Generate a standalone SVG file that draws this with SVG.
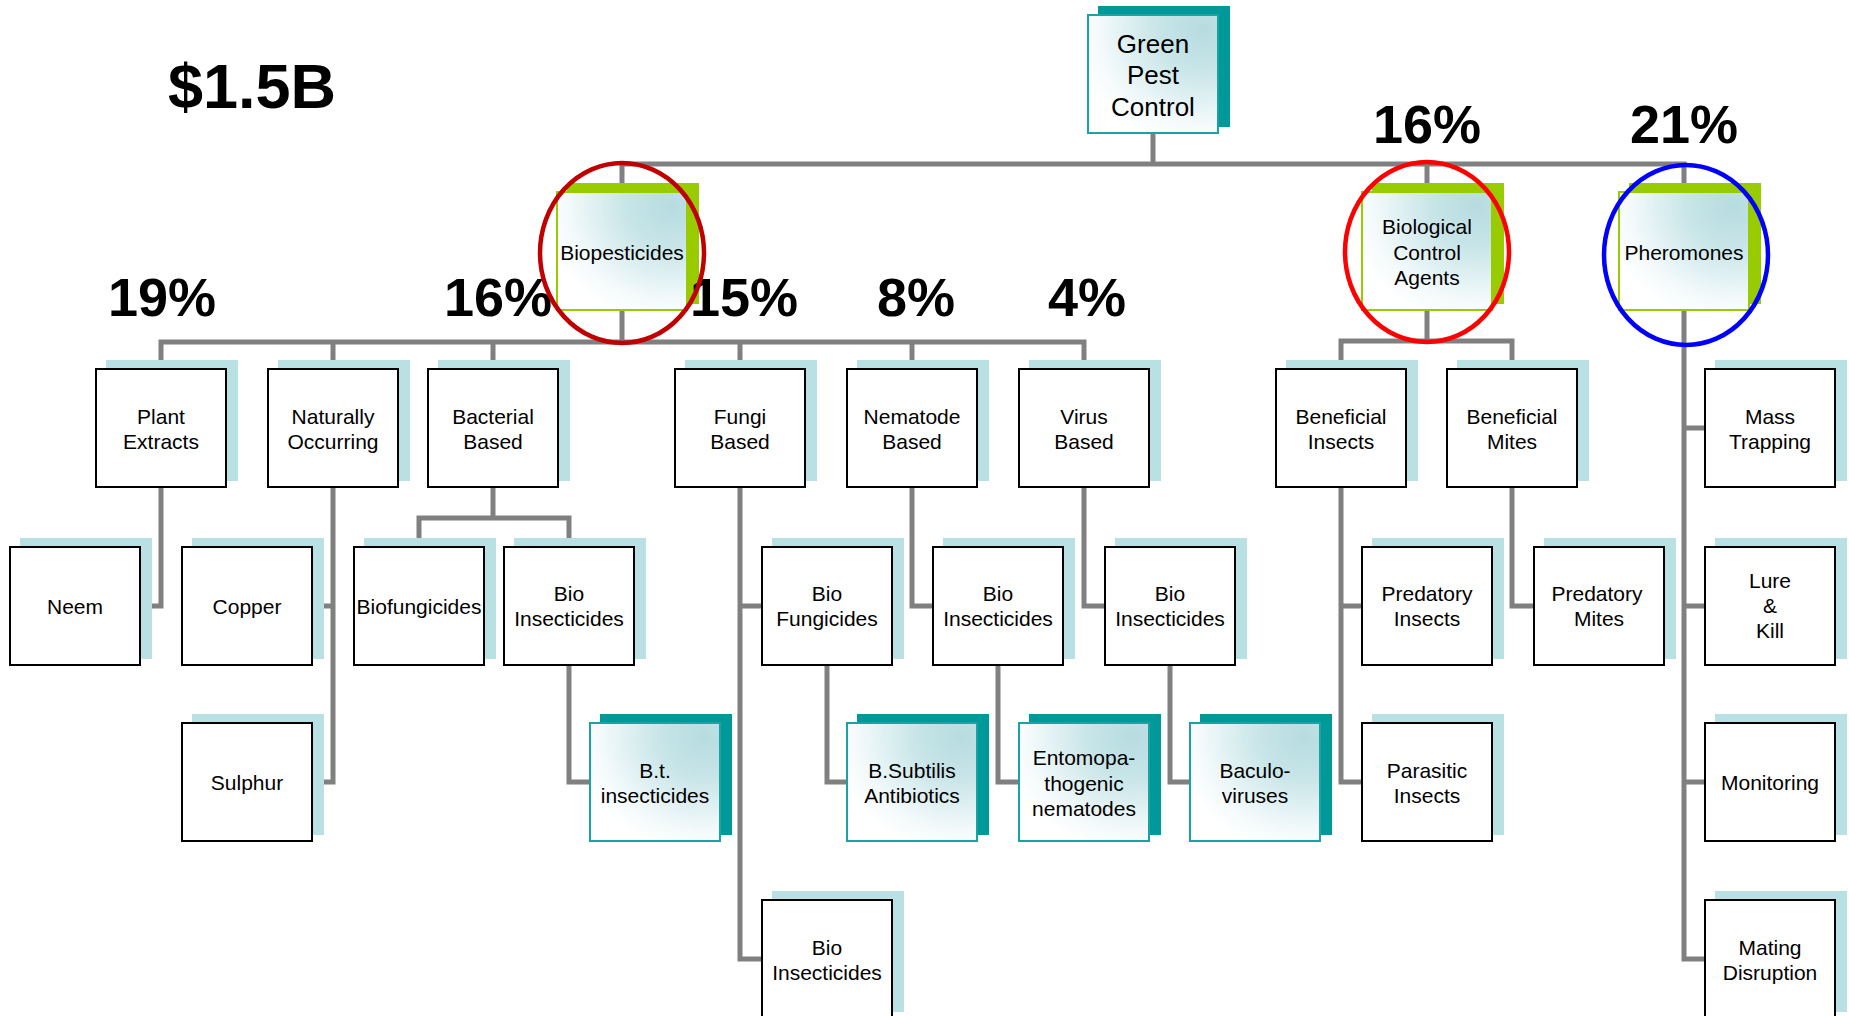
<svg xmlns="http://www.w3.org/2000/svg" width="1849" height="1016" viewBox="0 0 1849 1016">
<defs>
<radialGradient id="grad" cx="0.88" cy="0.12" r="1.0">
<stop offset="0" stop-color="#b6dce0"/>
<stop offset="0.35" stop-color="#c8e5e8"/>
<stop offset="0.8" stop-color="#f4fafb"/>
<stop offset="1" stop-color="#ffffff"/>
</radialGradient>
<style>
.conn{stroke:#808080;stroke-width:5;fill:none;stroke-linejoin:miter}
.shl{fill:#b9e0e3}
.sht{fill:#009999}
.shg{fill:#99cc00}
.box{fill:#ffffff;stroke:#000000;stroke-width:2}
.gbox{fill:url(#grad);stroke:#99cc00;stroke-width:2}
.tbox{fill:url(#grad);stroke:#1aa3a3;stroke-width:2}
text{font-family:"Liberation Sans",Arial,sans-serif;fill:#000000}
.t{font-size:21px;text-anchor:middle}
.tr{font-size:26px;text-anchor:middle}
.pct{font-size:54px;font-weight:bold;text-anchor:middle}
.big{font-size:63px;font-weight:bold}
.ring{fill:none;stroke-width:4.5}
</style>
</defs>
<rect x="0" y="0" width="1849" height="1016" fill="#ffffff"/>

<g id="connectors">
<path class="conn" d="M1153 133V164"/>
<path class="conn" d="M622 192V164H1684V192"/>
<path class="conn" d="M1427 164V192"/>
<path class="conn" d="M622 310V342"/>
<path class="conn" d="M161 369V342H1084V369"/>
<path class="conn" d="M333 342V369M493 342V369M740 342V369M912 342V369"/>
<path class="conn" d="M161 487V606H140"/>
<path class="conn" d="M333 487V782H311M333 606H311"/>
<path class="conn" d="M493 487V518"/>
<path class="conn" d="M419 547V518H569V547"/>
<path class="conn" d="M569 665V782H590"/>
<path class="conn" d="M740 487V959H762M740 606H762"/>
<path class="conn" d="M827 665V782H847"/>
<path class="conn" d="M912 487V606H933"/>
<path class="conn" d="M998 665V782H1019"/>
<path class="conn" d="M1084 487V606H1105"/>
<path class="conn" d="M1170 665V782H1190"/>
<path class="conn" d="M1427 310V341"/>
<path class="conn" d="M1341 369V341H1512V369"/>
<path class="conn" d="M1341 487V782H1362M1341 606H1362"/>
<path class="conn" d="M1512 487V606H1534"/>
<path class="conn" d="M1684 310V959H1705M1684 428H1705M1684 606H1705M1684 782H1705"/>
</g>

<g id="root">
<rect class="sht" x="1098" y="6" width="132" height="121"/>
<rect class="tbox" x="1088" y="15" width="130" height="118"/>
<text class="tr" x="1153" y="53">Green</text>
<text class="tr" x="1153" y="84">Pest</text>
<text class="tr" x="1153" y="116">Control</text>
</g>

<g id="biopesticides">
<rect class="shg" x="567" y="183" width="132" height="121"/>
<rect class="gbox" x="557" y="192" width="130" height="118"/>
<text class="t" x="622" y="260">Biopesticides</text>
</g>
<g id="biocontrol">
<rect class="shg" x="1372" y="183" width="132" height="121"/>
<rect class="gbox" x="1362" y="192" width="130" height="118"/>
<text class="t" x="1427" y="234">Biological</text>
<text class="t" x="1427" y="260">Control</text>
<text class="t" x="1427" y="285">Agents</text>
</g>
<g id="pheromones">
<rect class="shg" x="1629" y="183" width="132" height="121"/>
<rect class="gbox" x="1619" y="192" width="130" height="118"/>
<text class="t" x="1684" y="260">Pheromones</text>
</g>

<g id="plant">
<rect class="shl" x="106" y="360" width="132" height="121"/>
<rect class="box" x="96" y="369" width="130" height="118"/>
<text class="t" x="161" y="424">Plant</text>
<text class="t" x="161" y="449">Extracts</text>
</g>
<g id="natural">
<rect class="shl" x="278" y="360" width="132" height="121"/>
<rect class="box" x="268" y="369" width="130" height="118"/>
<text class="t" x="333" y="424">Naturally</text>
<text class="t" x="333" y="449">Occurring</text>
</g>
<g id="bacterial">
<rect class="shl" x="438" y="360" width="132" height="121"/>
<rect class="box" x="428" y="369" width="130" height="118"/>
<text class="t" x="493" y="424">Bacterial</text>
<text class="t" x="493" y="449">Based</text>
</g>
<g id="fungi">
<rect class="shl" x="685" y="360" width="132" height="121"/>
<rect class="box" x="675" y="369" width="130" height="118"/>
<text class="t" x="740" y="424">Fungi</text>
<text class="t" x="740" y="449">Based</text>
</g>
<g id="nematode">
<rect class="shl" x="857" y="360" width="132" height="121"/>
<rect class="box" x="847" y="369" width="130" height="118"/>
<text class="t" x="912" y="424">Nematode</text>
<text class="t" x="912" y="449">Based</text>
</g>
<g id="virus">
<rect class="shl" x="1029" y="360" width="132" height="121"/>
<rect class="box" x="1019" y="369" width="130" height="118"/>
<text class="t" x="1084" y="424">Virus</text>
<text class="t" x="1084" y="449">Based</text>
</g>
<g id="ben-insects">
<rect class="shl" x="1286" y="360" width="132" height="121"/>
<rect class="box" x="1276" y="369" width="130" height="118"/>
<text class="t" x="1341" y="424">Beneficial</text>
<text class="t" x="1341" y="449">Insects</text>
</g>
<g id="ben-mites">
<rect class="shl" x="1457" y="360" width="132" height="121"/>
<rect class="box" x="1447" y="369" width="130" height="118"/>
<text class="t" x="1512" y="424">Beneficial</text>
<text class="t" x="1512" y="449">Mites</text>
</g>
<g id="mass-trapping">
<rect class="shl" x="1715" y="360" width="132" height="121"/>
<rect class="box" x="1705" y="369" width="130" height="118"/>
<text class="t" x="1770" y="424">Mass</text>
<text class="t" x="1770" y="449">Trapping</text>
</g>

<g id="neem">
<rect class="shl" x="20" y="538" width="132" height="121"/>
<rect class="box" x="10" y="547" width="130" height="118"/>
<text class="t" x="75" y="614">Neem</text>
</g>
<g id="copper">
<rect class="shl" x="192" y="538" width="132" height="121"/>
<rect class="box" x="182" y="547" width="130" height="118"/>
<text class="t" x="247" y="614">Copper</text>
</g>
<g id="biofungicides">
<rect class="shl" x="364" y="538" width="132" height="121"/>
<rect class="box" x="354" y="547" width="130" height="118"/>
<text class="t" x="419" y="614">Biofungicides</text>
</g>
<g id="bio-insecticides-bact">
<rect class="shl" x="514" y="538" width="132" height="121"/>
<rect class="box" x="504" y="547" width="130" height="118"/>
<text class="t" x="569" y="601">Bio</text>
<text class="t" x="569" y="626">Insecticides</text>
</g>
<g id="bio-fungicides">
<rect class="shl" x="772" y="538" width="132" height="121"/>
<rect class="box" x="762" y="547" width="130" height="118"/>
<text class="t" x="827" y="601">Bio</text>
<text class="t" x="827" y="626">Fungicides</text>
</g>
<g id="bio-insecticides-nem">
<rect class="shl" x="943" y="538" width="132" height="121"/>
<rect class="box" x="933" y="547" width="130" height="118"/>
<text class="t" x="998" y="601">Bio</text>
<text class="t" x="998" y="626">Insecticides</text>
</g>
<g id="bio-insecticides-vir">
<rect class="shl" x="1115" y="538" width="132" height="121"/>
<rect class="box" x="1105" y="547" width="130" height="118"/>
<text class="t" x="1170" y="601">Bio</text>
<text class="t" x="1170" y="626">Insecticides</text>
</g>
<g id="predatory-insects">
<rect class="shl" x="1372" y="538" width="132" height="121"/>
<rect class="box" x="1362" y="547" width="130" height="118"/>
<text class="t" x="1427" y="601">Predatory</text>
<text class="t" x="1427" y="626">Insects</text>
</g>
<g id="predatory-mites">
<rect class="shl" x="1544" y="538" width="132" height="121"/>
<rect class="box" x="1534" y="547" width="130" height="118"/>
<text class="t" x="1597" y="601">Predatory</text>
<text class="t" x="1599" y="626">Mites</text>
</g>
<g id="lure-kill">
<rect class="shl" x="1715" y="538" width="132" height="121"/>
<rect class="box" x="1705" y="547" width="130" height="118"/>
<text class="t" x="1770" y="588">Lure</text>
<text class="t" x="1770" y="613">&amp;</text>
<text class="t" x="1770" y="638">Kill</text>
</g>

<g id="sulphur">
<rect class="shl" x="192" y="714" width="132" height="121"/>
<rect class="box" x="182" y="723" width="130" height="118"/>
<text class="t" x="247" y="790">Sulphur</text>
</g>
<g id="bt-insecticides">
<rect class="sht" x="600" y="714" width="132" height="121"/>
<rect class="tbox" x="590" y="723" width="130" height="118"/>
<text class="t" x="655" y="778">B.t.</text>
<text class="t" x="655" y="803">insecticides</text>
</g>
<g id="bsubtilis">
<rect class="sht" x="857" y="714" width="132" height="121"/>
<rect class="tbox" x="847" y="723" width="130" height="118"/>
<text class="t" x="912" y="778">B.Subtilis</text>
<text class="t" x="912" y="803">Antibiotics</text>
</g>
<g id="entomopathogenic">
<rect class="sht" x="1029" y="714" width="132" height="121"/>
<rect class="tbox" x="1019" y="723" width="130" height="118"/>
<text class="t" x="1084" y="765">Entomopa-</text>
<text class="t" x="1084" y="791">thogenic</text>
<text class="t" x="1084" y="816">nematodes</text>
</g>
<g id="baculoviruses">
<rect class="sht" x="1200" y="714" width="132" height="121"/>
<rect class="tbox" x="1190" y="723" width="130" height="118"/>
<text class="t" x="1255" y="778">Baculo-</text>
<text class="t" x="1255" y="803">viruses</text>
</g>
<g id="parasitic-insects">
<rect class="shl" x="1372" y="714" width="132" height="121"/>
<rect class="box" x="1362" y="723" width="130" height="118"/>
<text class="t" x="1427" y="778">Parasitic</text>
<text class="t" x="1427" y="803">Insects</text>
</g>
<g id="monitoring">
<rect class="shl" x="1715" y="714" width="132" height="121"/>
<rect class="box" x="1705" y="723" width="130" height="118"/>
<text class="t" x="1770" y="790">Monitoring</text>
</g>

<g id="bio-insecticides-fungi">
<rect class="shl" x="772" y="891" width="132" height="121"/>
<rect class="box" x="762" y="900" width="130" height="118"/>
<text class="t" x="827" y="955">Bio</text>
<text class="t" x="827" y="980">Insecticides</text>
</g>
<g id="mating-disruption">
<rect class="shl" x="1715" y="891" width="132" height="121"/>
<rect class="box" x="1705" y="900" width="130" height="118"/>
<text class="t" x="1770" y="955">Mating</text>
<text class="t" x="1770" y="980">Disruption</text>
</g>

<g id="labels">
<text class="big" x="168" y="108">$1.5B</text>
<text class="pct" x="1427" y="143">16%</text>
<text class="pct" x="1684" y="143">21%</text>
<text class="pct" x="162" y="316">19%</text>
<text class="pct" x="498" y="316">16%</text>
<text class="pct" x="744" y="316">15%</text>
<text class="pct" x="916" y="316">8%</text>
<text class="pct" x="1087" y="316">4%</text>
</g>

<g id="highlights">
<ellipse class="ring" cx="622" cy="253" rx="82" ry="90" stroke="#c00000"/>
<ellipse class="ring" cx="1427" cy="252" rx="82" ry="90" stroke="#ff0000"/>
<ellipse class="ring" cx="1686" cy="255" rx="82" ry="90" stroke="#0000ff"/>
</g>
</svg>
